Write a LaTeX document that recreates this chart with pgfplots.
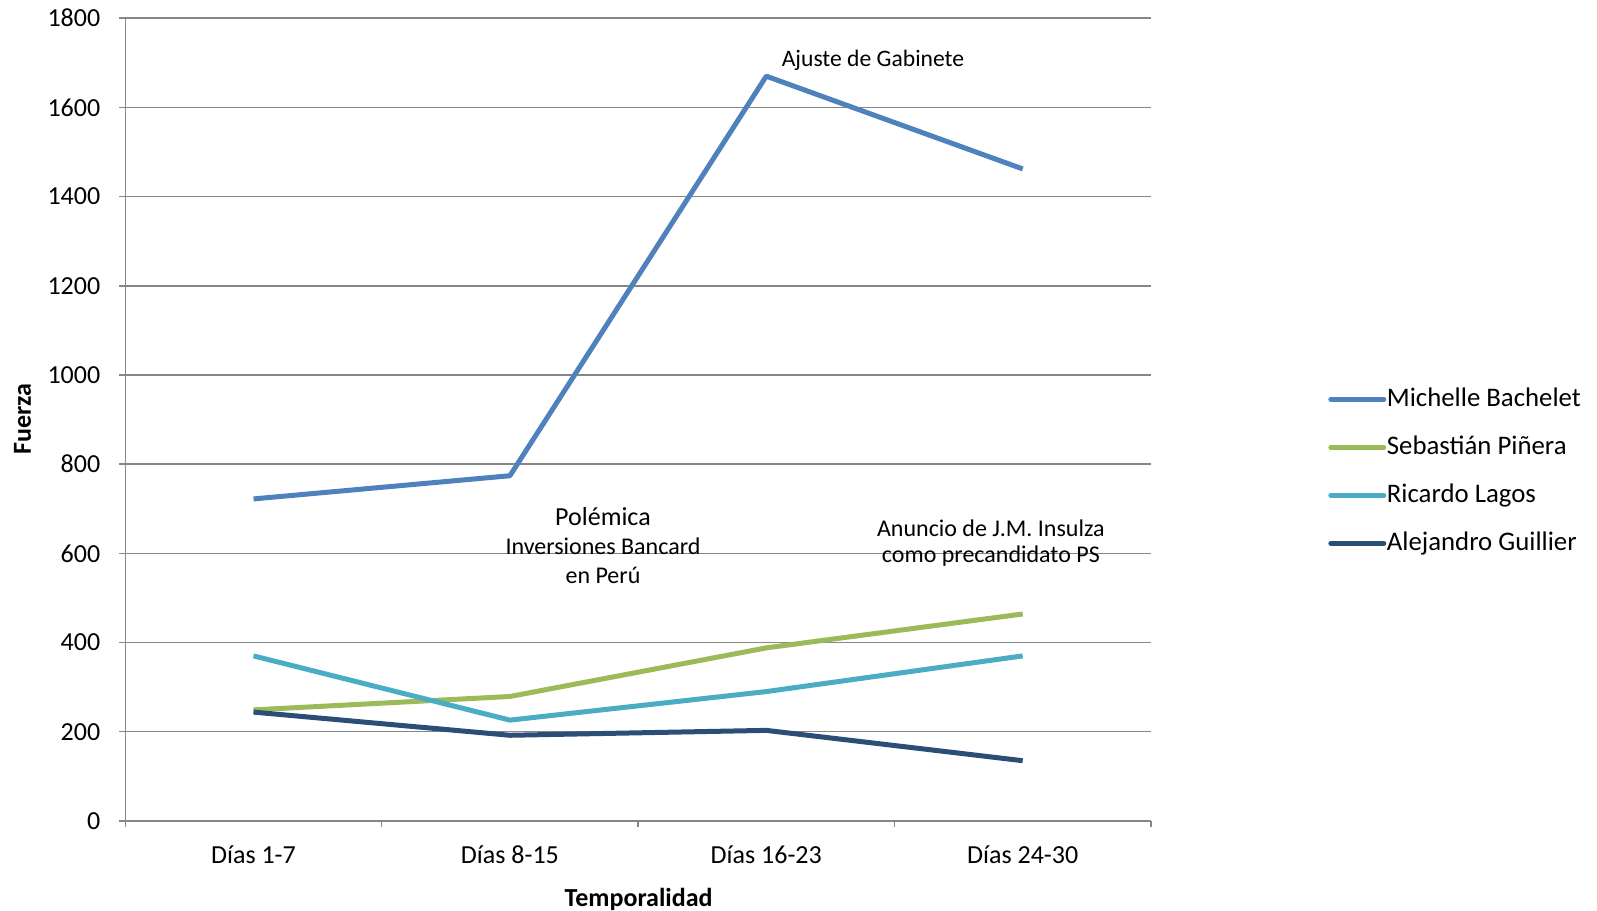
\documentclass[border=0pt]{standalone}
\usepackage{pgfplots}
\pgfplotsset{compat=1.18}
\usepackage{fontspec}
\setmainfont{Carlito}
\definecolor{cBach}{HTML}{4F81BD}
\definecolor{cPin}{HTML}{9BBB59}
\definecolor{cLag}{HTML}{4BACC6}
\definecolor{cGui}{HTML}{2C4D75}
\definecolor{cGrid}{HTML}{868686}
\begin{document}
\begin{tikzpicture}
\useasboundingbox (-62.65pt,-45pt) rectangle (735.85pt,410.45pt);
\begin{axis}[
  at={(0pt,0pt)}, anchor=south west,
  scale only axis, width=512.8pt, height=401.35pt,
  xmin=-0.5, xmax=3.5, ymin=0, ymax=1800,
  axis x line*=bottom, axis y line*=left,
  axis line style={cGrid, line width=0.75pt},
  xtick={-0.5,0.5,1.5,2.5,3.5}, xticklabels={},
  extra x ticks={0,1,2,3},
  extra x tick labels={Días 1-7,Días 8-15,Días 16-23,Días 24-30},
  extra x tick style={major tick length=0pt},
  ytick={0,200,...,1800},
  tick align=outside, major tick length=3pt,
  tick style={cGrid, line width=0.75pt},
  ymajorgrids, grid style={cGrid, line width=0.75pt},
  /pgf/number format/assume math mode=true,
  /pgf/number format/1000 sep={},
  tick label style={font=\fontsize{13}{15}\selectfont, text=black},
  xticklabel style={yshift=-9pt},
  yticklabel style={xshift=-6pt},
  xlabel={\textbf{Temporalidad}}, ylabel={\textbf{Fuerza}},
  xlabel style={at={(rel axis cs:0.5005,-0.098)}, anchor=center, font=\fontsize{13}{15}\selectfont},
  ylabel style={at={(rel axis cs:-0.1003,0.5008)}, anchor=center, rotate=0, font=\fontsize{13}{15}\selectfont},
  legend cell align=left,
  legend style={at={(rel axis cs:1.1726,0.4355)}, anchor=west, draw=none, fill=none,
    inner sep=0pt, row sep=11.6pt, column sep=0pt,
    font=\fontsize{13.4}{15}\selectfont,
    nodes={inner xsep=0.3pt, inner ysep=0pt, text height=9.8pt, text depth=2.6pt}},
  legend image code/.code={\draw[#1, line cap=round] (0pt,0pt) -- (26.5pt,0pt);},
  every axis plot/.append style={line width=2.5pt, line join=round},
]
\addplot[cBach] coordinates {(0,722) (1,774) (2,1670) (3,1462)};
\addlegendentry{Michelle Bachelet}
\addplot[cPin] coordinates {(0,249) (1,279) (2,388) (3,464)};
\addlegendentry{Sebastián Piñera}
\addplot[cLag] coordinates {(0,370) (1,226) (2,290) (3,370)};
\addlegendentry{Ricardo Lagos}
\addplot[cGui] coordinates {(0,244) (1,192) (2,203) (3,135)};
\addlegendentry{Alejandro Guillier}
\node[font=\fontsize{11.8}{14}\selectfont] at (axis cs:2.416,1705) {Ajuste de Gabinete};
\node[font=\fontsize{13}{15}\selectfont] at (axis cs:1.363,682) {Polémica};
\node[font=\fontsize{12}{14}\selectfont] at (axis cs:1.363,615) {Inversiones Bancard};
\node[font=\fontsize{12}{14}\selectfont] at (axis cs:1.363,550) {en Perú};
\node[font=\fontsize{12}{14}\selectfont] at (axis cs:2.876,657) {Anuncio de J.M. Insulza};
\node[font=\fontsize{12}{14}\selectfont] at (axis cs:2.876,594.5) {como precandidato PS};
\end{axis}
\end{tikzpicture}
\end{document}
